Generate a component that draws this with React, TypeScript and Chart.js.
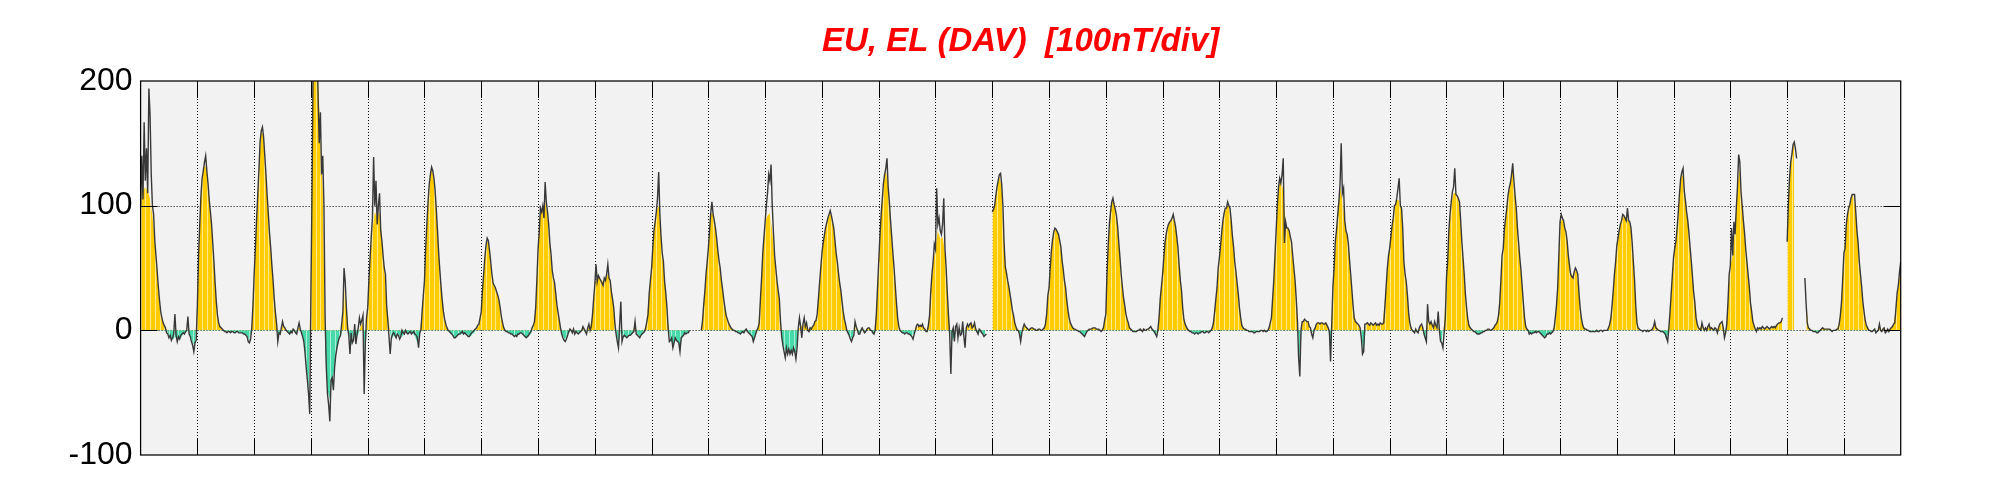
import { useEffect, useRef } from 'react';
import { Chart, registerables } from 'chart.js';

Chart.register(...registerables);

const TITLE = 'EU, EL (DAV)  [100nT/div]';
const DAY_COUNT = 31;
const HOURS_PER_DAY = 24;
const Y_TICKS = [-100, 0, 100, 200];
const Y_GRID = [0, 100];

// Hourly EU/EL values (nT), 24 per day, plus the closing value at hour 744.
const FILL_HOURLY: (number | null)[] = [
  110, 112, 115, 112, 105, 92, 71, 45, 21, 10, 5, 0, -4, -6, -7, -5, -8, -6, -3, -2, 0, -4, -10, -12,
  25, 85, 120, 133, 128, 105, 85, 55, 23, 6, 2, 0, -1, -1, -2, -1, -2, -1, -2, -2, -3, -4, -9, 4,
  45, 88, 128, 160, 155, 125, 93, 66, 40, 14, -2, -3, 4, 2, -1, -3, -2, 0, -3, 3, -2, -8, -25, -50,
  50, 205, 215, 200, 160, 110, -15, -48, -55, -40, -30, -15, -8, -2, 35, 20, -2, -12, 0, -8, -3, 3, 6, -20,
  20, 55, 80, 95, 90, 95, 75, 50, 22, 5, -8, -4, -6, -3, -6, -4, 0, -3, -2, -2, -5, -10, -2, 15,
  40, 85, 117, 130, 120, 97, 62, 35, 15, 5, 0, -2, -4, -6, -4, -3, -3, -2, -3, -5, -4, -2, 1, 4,
  15, 45, 68, 72, 55, 38, 34, 28, 18, 6, 0, -1, -2, -3, -4, -5, -3, -2, -4, -6, -5, -3, 4, 18,
  65, 95, 95, 103, 92, 68, 45, 36, 18, 8, -2, -7, -6, -2, 0, 1, -1, -2, -1, 2, -1, 1, 3, 10,
  37, 42, 42, 40, 38, 44, 45, 33, 18, 0, -12, 0, -6, -5, -5, -4, -2, 5, -3, -5, -3, -1, 8, 32,
  50, 80, 95, 100, 75, 50, 32, 5, -8, -12, -7, -9, -14, -6, -3, -2, -1, null, null, null, null, 0, 20, 45,
  66, 94, 93, 80, 64, 48, 33, 18, 9, 4, 1, 0, -1, -2, -2, -2, 0, -2, -4, -8, -4, 2, 25, 62,
  87, 92, 94, 79, 57, 40, 22, -6, -15, -16, -17, -18, -17, -18, 0, 3, 4, 5, 1, 1, 3, 6, 13, 38,
  62, 76, 86, 93, 92, 82, 62, 46, 32, 15, 5, -2, -7, -6, 6, 0, -3, 2, -2, 1, 2, 0, -3, 15,
  55, 92, 118, 128, 115, 88, 62, 36, 10, 0, -2, -3, -2, -3, -5, -2, 4, 3, 4, 2, -1, 5, 30, 55,
  65, 80, 73, 75, 62, 30, 2, -8, -5, 1, -2, 0, -4, 2, 4, 6, 4, 2, -3, 0, -3, -4, null, null,
  95, 100, 115, 123, 115, 70, 46, 35, 23, 12, 3, 0, -6, 1, 4, 1, 1, 2, 1, 0, 1, 0, 2, 15,
  34, 64, 79, 81, 77, 67, 49, 34, 16, 6, 2, 1, 0, -1, -3, -4, -1, 1, 1, 2, 1, 1, 0, 3,
  13, 68, 95, 106, 98, 83, 58, 35, 20, 9, 2, 0, -1, -1, 0, 0, 1, 0, 1, 0, -1, -4, 2, 28,
  45, 70, 82, 87, 90, 88, 75, 52, 32, 9, 3, 0, -1, -2, -2, -3, -2, -1, -2, -1, -1, 2, 15, 34,
  58, 79, 94, 98, 100, 88, 67, 47, 29, 10, 2, 1, 0, -1, -1, -2, -1, -1, 0, 0, -1, 2, 10, 40,
  80, 115, 120, 112, 85, 82, 75, 60, 40, 10, -25, 5, 8, 7, 4, -2, 0, 5, 6, 6, 5, 6, 2, -15,
  35, 63, 92, 115, 105, 88, 75, 57, 35, 12, 6, 4, -5, -18, 5, 5, 5, 4, 5, 4, 5, 5, 25, 50,
  66, 84, 100, 105, 104, 96, 55, 39, 14, 2, -1, 0, -1, 4, 2, -8, 10, 5, 5, 5, 4, 0, -10, 5,
  42, 78, 100, 110, 110, 105, 88, 58, 29, 9, 2, 0, -1, -3, -3, -2, -1, 0, 1, 0, 2, 5, 12, 40,
  66, 90, 108, 118, 130, 108, 82, 58, 35, 10, 1, -3, -3, -2, -2, -1, -3, -5, -5, -3, -3, -1, 10, 34,
  85, 90, 82, 72, 52, 43, 47, 48, 30, 10, 2, 1, 0, -1, -1, -1, -1, 0, -1, 0, 0, 5, 20, 45,
  68, 80, 88, 92, 90, 88, 82, 55, 20, 2, 0, -1, 0, -1, 0, 0, 6, 2, 0, -1, -2, -8, 2, 30,
  59, 72, 95, 122, 125, 104, 88, 66, 43, 22, 5, 1, 5, 1, 1, 3, 2, 1, 0, 2, 6, 2, -3, 23,
  52, 60, 82, 115, 130, 100, 78, 55, 35, 15, 4, -1, 2, 1, 1, 2, 1, 1, 2, 3, 5, 6, 9, null,
  71, 122, 141, 151, null, null, null, null, 25, 2, 0, -1, -1, -2, -1, 2, 1, 1, 1, -1, 0, 1, 6, 25,
  62, 85, 98, 106, 109, 95, 70, 45, 23, 8, 2, 0, -1, 1, -1, 4, 0, 2, -1, 0, 2, 5, 18, 36,
  50,
];

// Half-hourly trace values (nT), 48 per day, plus the closing value.
const LINE_HALF_HOURLY: (number | null)[] = [
  100, 140, 105, 167, 120, 146, 110, 194, 173, 125, 100, 93, 72, 60, 48, 35, 24, 15, 10, 6, 4, 2, -2, -3, -6, -4, -8, -6, -3, 13, -4, -9, -5, -7, -4, -3, -2, -3, -1, 0, 11, -3, -5, -9, -12, -17, -10, -8,
  20, 60, 85, 108, 122, 128, 135, 140, 128, 118, 105, 95, 85, 70, 55, 38, 23, 12, 6, 3, 2, 1, 0, -1, -1, -2, -1, -1, -2, -1, -1, -2, -2, -1, -1, -2, -2, -2, -2, -3, -3, -4, -5, -9, -10, -7, 2, 20,
  45, 65, 88, 108, 128, 151, 160, 163, 155, 140, 125, 108, 93, 78, 66, 52, 40, 25, 14, 5, -9, -2, -3, 2, 7, 3, 2, 0, -1, -2, -3, -1, -2, 1, 0, -2, -3, 2, 6, 1, -2, -5, -9, -18, -30, -40, -51, -67,
  30, 120, 230, 250, 230, 240, 191, 150, 175, 125, 140, 100, 10, -30, -51, -60, -73, -40, -38, -48, -30, -20, -14, -9, -6, -4, 5, 15, 50, 39, 18, 2, -4, -19, -2, -10, -8, 5, -11, -3, 2, 10, 5, 8, 12, -51, -10, 10,
  18, 40, 58, 75, 90, 139, 100, 120, 85, 100, 110, 80, 72, 60, 50, 45, 20, 8, -5, -19, -6, -3, -2, -4, -6, -3, -4, -7, -5, 0, -2, -3, 0, -2, -3, -2, -1, -3, -2, -1, -3, -4, -6, -14, -2, 0, 15, 28,
  40, 66, 85, 103, 117, 125, 131, 128, 122, 112, 97, 80, 62, 48, 35, 24, 15, 9, 5, 2, 0, -1, -2, -3, -4, -6, -6, -5, -4, -3, -3, -2, -1, -3, -2, -3, -4, -5, -5, -3, -2, -1, 0, 1, 2, 4, 5, 10,
  15, 32, 45, 58, 68, 74, 72, 64, 55, 45, 38, 36, 34, 31, 28, 24, 18, 11, 6, 2, 0, -1, -1, -2, -2, -3, -3, -4, -5, -4, -5, -3, -3, -2, -2, -3, -4, -5, -6, -5, -4, -2, -1, 2, 4, 7, 18, 40,
  65, 79, 98, 95, 100, 90, 119, 103, 95, 85, 70, 61, 48, 42, 38, 29, 20, 14, 8, 2, -3, -6, -8, -9, -7, -4, -1, 1, 0, -2, 1, -3, -1, -2, -3, -2, -1, 0, 3, 1, -1, -3, 2, 5, 0, 3, 12, 25,
  37, 53, 39, 44, 42, 40, 38, 36, 42, 40, 45, 53, 42, 40, 31, 25, 18, 5, -3, -9, -14, 5, 23, -9, -5, -4, -5, -6, -5, -4, -4, -3, -2, -1, 7, -3, -4, -5, -6, -4, -3, -2, -1, 2, 7, 13, 30, 40,
  50, 66, 80, 87, 95, 106, 127, 93, 75, 62, 55, 39, 30, 18, 2, -9, -8, -6, -14, -10, -6, -8, -9, -10, -17, -6, -5, -4, -2, -3, -2, -2, 0, null, null, null, null, null, null, null, null, null, 0, 7, 20, 31, 45, 55,
  66, 80, 94, 103, 93, 88, 82, 74, 64, 56, 50, 40, 33, 25, 18, 12, 9, 6, 4, 2, 1, 0, 0, -1, -1, -2, -2, -3, -2, -1, -2, 0, 1, -1, -2, -3, -4, -5, -9, -6, -3, 0, 2, 6, 25, 42, 62, 75,
  87, 100, 110, 125, 120, 133, 100, 79, 60, 50, 40, 32, 25, 7, -5, -12, -17, -22, -14, -19, -15, -19, -16, -19, -14, -17, -23, -14, 2, 10, 3, -6, 5, 10, 3, 6, 0, -1, 2, 1, 3, 4, 7, 8, 13, 25, 38, 50,
  62, 70, 76, 82, 86, 90, 93, 96, 92, 87, 82, 72, 62, 55, 46, 38, 32, 23, 15, 9, 5, 0, -2, -4, -7, -9, -6, -4, 7, 3, 0, -3, -3, 0, 2, 0, -2, -1, 1, 2, 2, 0, 0, -2, -3, 0, 13, 34,
  55, 75, 92, 105, 118, 125, 130, 138, 115, 103, 88, 75, 62, 50, 36, 22, 10, 3, 0, -1, -2, -2, -3, -2, -2, -3, -3, -4, -5, -7, -3, 0, 4, 5, 3, 4, 3, 5, 2, 1, -1, -1, 4, 12, 31, 45, 55, 69,
  65, 114, 85, 90, 80, 77, 85, 106, 66, 50, 30, 12, -3, -35, -1, 2, -9, 3, 5, -6, 2, -4, -3, 7, -5, -14, 2, 5, 3, 5, 6, 2, 3, 6, 1, -1, -3, 1, 0, -2, -3, -5, -4, -3, null, null, null, null,
  95, 97, 100, 108, 115, 120, 125, 126, 117, 100, 70, 51, 46, 40, 35, 29, 23, 16, 12, 6, 3, 0, 0, -3, -9, -2, 2, 5, 3, 2, 1, 0, 1, 2, 2, 1, 1, 0, 0, 1, 1, 0, 0, 1, 2, 5, 13, 28,
  34, 50, 64, 73, 79, 82, 81, 79, 77, 72, 67, 56, 49, 40, 34, 24, 16, 10, 6, 4, 2, 1, 1, 0, 0, -1, -1, -2, -3, -4, -5, -3, -1, 0, 1, 1, 1, 2, 2, 2, 1, 1, 1, 0, -1, 0, 2, 8,
  13, 45, 68, 85, 95, 103, 106, 101, 97, 92, 83, 70, 58, 45, 35, 26, 20, 13, 9, 6, 2, 1, 0, -1, -1, -1, -1, 0, 0, 1, 0, -1, 1, 0, 0, 1, 1, 2, 3, 1, 0, -1, -3, -5, 0, 10, 25, 35,
  45, 58, 70, 77, 82, 85, 87, 88, 90, 93, 88, 83, 75, 66, 52, 40, 32, 18, 9, 5, 3, 1, 0, -1, -1, -2, -2, -3, -2, -2, -3, -2, -2, -1, -1, -2, -2, -1, -1, -2, -1, 0, 2, 6, 15, 25, 34, 50,
  58, 68, 79, 88, 94, 98, 98, 103, 100, 98, 88, 76, 67, 55, 47, 38, 29, 18, 10, 4, 2, 1, 1, 0, 0, -1, -1, -1, -1, -2, -2, -1, -1, -1, -1, 0, 0, -1, 0, -1, -1, 0, 2, 6, 10, 25, 40, 60,
  80, 100, 115, 122, 118, 125, 138, 70, 87, 82, 82, 80, 75, 71, 60, 50, 40, 25, 8, -22, -37, 0, 7, 7, 9, 8, 7, 7, 3, 2, -3, -6, 0, 2, 5, 6, 6, 5, 6, 6, 5, 5, 6, 4, 2, -1, -25, 5,
  35, 50, 71, 80, 92, 103, 117, 150, 110, 114, 88, 80, 77, 70, 57, 45, 33, 20, 10, 7, 6, 5, 4, 2, -6, -19, -17, 5, 5, 6, 5, 4, 6, 5, 4, 5, 6, 4, 5, 4, 6, 5, 5, 6, 20, 35, 50, 60,
  66, 75, 84, 90, 100, 101, 106, 114, 122, 100, 98, 82, 55, 45, 39, 28, 14, 6, 2, 0, -1, -2, 1, -1, -2, 2, 4, 5, 2, -3, -6, -9, 21, 7, 5, 7, 4, 2, 7, 4, 2, 15, 0, -9, -10, -14, -2, 10,
  42, 55, 80, 93, 103, 111, 115, 130, 109, 108, 106, 103, 88, 71, 58, 45, 29, 18, 9, 4, 2, 1, 0, -1, -1, -2, -3, -3, -3, -2, -2, -1, -1, 0, 0, 1, 1, 0, 0, 1, 2, 4, 5, 7, 12, 22, 40, 60,
  66, 82, 90, 98, 108, 114, 118, 125, 134, 120, 108, 98, 82, 70, 58, 48, 35, 22, 10, 3, 1, 0, -3, -2, -3, -2, -2, -1, -2, -1, -1, -2, -3, -4, -5, -6, -5, -3, -3, -2, -3, -2, -1, 2, 10, 20, 34, 60,
  87, 93, 90, 88, 82, 79, 72, 60, 52, 45, 43, 42, 47, 50, 48, 45, 30, 18, 10, 5, 2, 1, 1, 0, 0, -1, -1, -1, -1, -1, -1, 0, -1, -1, 0, 0, -1, 0, 0, 0, 0, 2, 5, 10, 20, 32, 45, 55,
  68, 74, 80, 85, 88, 93, 92, 90, 88, 98, 88, 87, 82, 70, 55, 40, 20, 6, 2, 1, 0, 0, -1, 0, 0, -1, 0, -1, 0, 0, 1, 3, 7, 2, 1, 0, 0, -1, -1, -1, -2, -3, -6, -9, 2, 15, 30, 45,
  59, 66, 72, 82, 95, 110, 122, 127, 130, 112, 104, 95, 88, 78, 66, 55, 43, 30, 22, 10, 5, 2, 1, 0, 6, 2, 0, 2, 0, 3, 5, 1, 2, 1, 0, 2, 1, -2, 2, 5, 6, 7, 2, -6, -2, 5, 23, 45,
  52, 82, 60, 87, 77, 98, 115, 141, 135, 111, 100, 88, 78, 65, 55, 45, 35, 22, 15, 7, 4, 1, -1, 2, 1, 2, 1, 3, 2, 1, 2, 3, 2, 1, 2, 3, 2, 3, 2, 4, 5, 6, 6, 7, 10, null, null, null,
  71, 100, 122, 135, 141, 149, 151, 146, 138, null, null, null, null, null, null, 42, 22, 6, 2, 1, 0, 0, -1, -1, -1, -2, -2, -1, 0, 1, 2, 1, 1, 1, 1, 1, 1, 0, -1, 0, 0, 0, 1, 1, 5, 12, 23, 42,
  62, 66, 85, 93, 98, 101, 106, 109, 109, 109, 95, 80, 70, 55, 45, 35, 23, 15, 8, 4, 2, 0, 0, -1, -1, 0, 1, -2, -1, 0, 5, 0, -1, 1, 2, -2, -1, 1, -1, 1, 2, 3, 5, 6, 18, 30, 36, 47,
  55,
];

const FONT = "'Liberation Sans', Arial, Helvetica, sans-serif";
const YELLOW = '#FFCC00';
const TEAL = '#46D9A9';
const TRACE = '#383838';
const PLOT_BG = '#F2F2F2';
const SEAM = 'rgba(255,255,255,0.55)';
const TICK_LEN = 17;

const framePlugin = {
  id: 'eejFrame',
  beforeDatasetsDraw(chart: any) {
    const { ctx, chartArea: a, scales } = chart;
    const x = scales.x;
    const y = scales.y;
    ctx.save();
    ctx.fillStyle = PLOT_BG;
    ctx.fillRect(a.left, a.top, a.right - a.left, a.bottom - a.top);
    ctx.strokeStyle = '#000';
    ctx.lineWidth = 1;
    ctx.setLineDash([1, 2]);
    ctx.beginPath();
    for (let d = 1; d < DAY_COUNT; d++) {
      const px = Math.round(x.getPixelForValue(d * HOURS_PER_DAY)) + 0.5;
      ctx.moveTo(px, a.top);
      ctx.lineTo(px, a.bottom);
    }
    for (const v of Y_GRID) {
      const py = Math.round(y.getPixelForValue(v)) + 0.5;
      ctx.moveTo(a.left, py);
      ctx.lineTo(a.right, py);
    }
    ctx.stroke();
    ctx.restore();
  },
  afterDatasetDraw(chart: any, args: any) {
    if (args.index !== 0) return;
    const { ctx, chartArea: a, scales } = chart;
    const x = scales.x;
    const y = scales.y;
    const y0 = y.getPixelForValue(0);
    ctx.save();
    ctx.beginPath();
    ctx.rect(a.left, a.top, a.right - a.left, a.bottom - a.top);
    ctx.clip();
    ctx.strokeStyle = SEAM;
    ctx.lineWidth = 1;
    ctx.beginPath();
    FILL_HOURLY.forEach((v, i) => {
      if (v === null || i % 2 !== 0 || Math.abs(v) < 4) return;
      const px = Math.round(x.getPixelForValue(i)) + 0.5;
      ctx.moveTo(px, y0);
      ctx.lineTo(px, y.getPixelForValue(v));
    });
    ctx.stroke();
    ctx.restore();
  },
  afterDraw(chart: any) {
    const { ctx, chartArea: a, scales } = chart;
    const x = scales.x;
    const y = scales.y;
    ctx.save();
    ctx.strokeStyle = '#000';
    ctx.setLineDash([]);
    ctx.lineWidth = 1.25;
    ctx.strokeRect(a.left, a.top, a.right - a.left, a.bottom - a.top);
    ctx.lineWidth = 1;
    ctx.beginPath();
    for (let d = 1; d < DAY_COUNT; d++) {
      const px = Math.round(x.getPixelForValue(d * HOURS_PER_DAY)) + 0.5;
      ctx.moveTo(px, a.top);
      ctx.lineTo(px, a.top + TICK_LEN);
      ctx.moveTo(px, a.bottom);
      ctx.lineTo(px, a.bottom - TICK_LEN);
    }
    for (const v of Y_GRID) {
      const py = Math.round(y.getPixelForValue(v)) + 0.5;
      ctx.moveTo(a.left, py);
      ctx.lineTo(a.left + TICK_LEN, py);
      ctx.moveTo(a.right, py);
      ctx.lineTo(a.right - TICK_LEN, py);
    }
    ctx.stroke();
    ctx.restore();
  },
};

export default function App() {
  const canvasRef = useRef<HTMLCanvasElement | null>(null);

  useEffect(() => {
    document.body.style.margin = '0';
    const canvas = canvasRef.current;
    if (!canvas) return;
    Chart.defaults.font.family = FONT;

    const fillPoints = FILL_HOURLY.map((v, i) => ({ x: i, y: v }));
    const linePoints = LINE_HALF_HOURLY.map((v, i) => ({ x: i / 2, y: v }));

    const chart = new Chart(canvas, {
      type: 'line',
      data: {
        datasets: [
          {
            label: 'EU/EL hourly',
            data: fillPoints as any,
            borderWidth: 0,
            borderColor: 'rgba(0,0,0,0)',
            pointRadius: 0,
            spanGaps: false,
            fill: { target: 'origin', above: YELLOW, below: TEAL },
            order: 2,
          },
          {
            label: 'DAV',
            data: linePoints as any,
            borderColor: TRACE,
            borderWidth: 1.4,
            pointRadius: 0,
            spanGaps: false,
            fill: false,
            order: 1,
          },
        ],
      },
      options: {
        responsive: false,
        animation: false,
        devicePixelRatio: 1,
        events: [],
        layout: { padding: { left: 0, right: 100.3, top: 0, bottom: 45 } },
        plugins: {
          legend: { display: false },
          tooltip: { enabled: false },
          title: {
            display: true,
            text: TITLE,
            color: '#ff0000',
            fullSize: false,
            font: { family: FONT, size: 33, weight: 'bold', style: 'italic', lineHeight: 1.2 },
            padding: { top: 22.6, bottom: 18.8 },
          },
        },
        scales: {
          x: {
            type: 'linear',
            min: 0,
            max: DAY_COUNT * HOURS_PER_DAY,
            display: false,
          },
          y: {
            type: 'linear',
            min: Y_TICKS[0],
            max: Y_TICKS[Y_TICKS.length - 1],
            afterBuildTicks: (scale: any) => {
              scale.ticks = Y_TICKS.map((v) => ({ value: v }));
            },
            afterFit: (scale: any) => {
              scale.width = 140.6;
            },
            grid: { display: false, drawTicks: false },
            border: { display: false },
            ticks: { color: '#000', font: { family: FONT, size: 32 }, padding: 8 },
          },
        },
      },
      plugins: [framePlugin],
    });

    return () => chart.destroy();
  }, []);

  return (
    <div style={{ width: 2001, height: 500 }}>
      <canvas ref={canvasRef} width={2001} height={500} style={{ display: 'block' }} />
    </div>
  );
}
